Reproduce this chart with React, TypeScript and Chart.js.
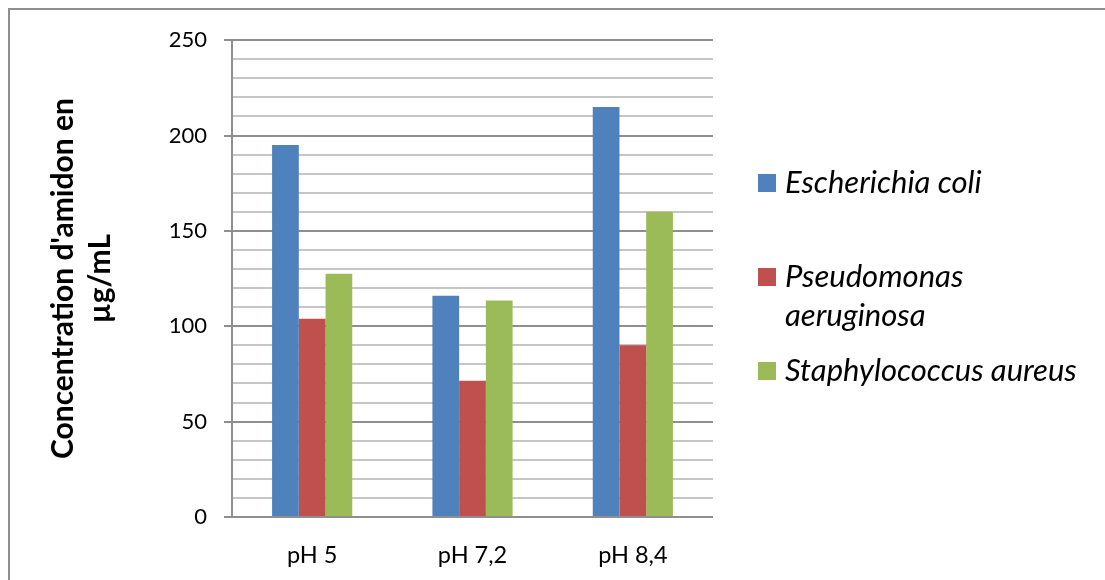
import React, { useEffect, useRef } from 'react';
import { Chart, registerables } from 'chart.js';

Chart.register(...registerables);

// Categories (pH of the medium) and starch concentration per bacterium, in µg/mL
const categories = ['pH 5', 'pH 7,2', 'pH 8,4'];
const seriesNames = ['Escherichia coli', 'Pseudomonas aeruginosa', 'Staphylococcus aureus'];
const escherichiaColi = [195, 116, 215];
const pseudomonasAeruginosa = [104, 71.5, 90];
const staphylococcusAureus = [127.5, 113.5, 160];
const seriesValues = [escherichiaColi, pseudomonasAeruginosa, staphylococcusAureus];
const seriesColors = ['#4F81BD', '#C0504D', '#9BBB59'];

// Legend labels, with the line break used in the legend
const legendLabels = ['Escherichia coli', 'Pseudomonas\naeruginosa', 'Staphylococcus aureus'];

// Y axis: labelled every 50, gridlines every 10
const yMin = 0;
const yMax = 250;
const yMajorStep = 50;
const yMinorStep = 10;
const yTitle = ["Concentration d'amidon en", 'µg/mL'];

const FONT = 'Lato, "Open Sans", sans-serif';
const MAJOR_GRID = '#8f8f8f';
const MINOR_GRID = '#c6c6c6';

const legendTops = [152, 246, 340];

export default function App() {
  const canvasRef = useRef<HTMLCanvasElement>(null);

  useEffect(() => {
    const canvas = canvasRef.current;
    if (!canvas) return;
    const isMajor = (v: number) => v % yMajorStep === 0;
    const chart = new Chart(canvas, {
      type: 'bar',
      data: {
        labels: categories,
        datasets: seriesNames.map((name, i) => ({
          label: name,
          data: seriesValues[i],
          backgroundColor: seriesColors[i],
          borderWidth: 0,
          categoryPercentage: 0.5,
          barPercentage: 1,
        })),
      },
      options: {
        animation: false,
        responsive: false,
        devicePixelRatio: 1,
        layout: { padding: { left: 0, top: 29, right: 384, bottom: 0 } },
        plugins: {
          legend: { display: false },
          tooltip: { enabled: false },
        },
        scales: {
          x: {
            grid: { display: false },
            border: { display: false },
            ticks: {
              color: '#000',
              padding: 16,
              font: { family: FONT, size: 23.5 },
            },
            afterFit: (scale: any) => {
              scale.height = 55;
            },
          },
          y: {
            min: yMin,
            max: yMax,
            afterFit: (scale: any) => {
              scale.width = 222;
            },
            ticks: {
              stepSize: yMinorStep,
              autoSkip: false,
              color: '#000',
              padding: 17,
              font: { family: FONT, size: 22 },
              callback: (v: any) => (isMajor(Number(v)) ? String(v) : ''),
            },
            grid: {
              color: (ctx: any) => (isMajor(ctx.tick.value) ? MAJOR_GRID : MINOR_GRID),
              lineWidth: 2,
              tickLength: 8,
              tickWidth: 2,
              tickColor: (ctx: any) => (isMajor(ctx.tick.value) ? MAJOR_GRID : 'rgba(0,0,0,0)'),
            },
            border: { color: MAJOR_GRID, width: 2 },
            title: {
              display: true,
              text: yTitle,
              color: '#000',
              font: { family: FONT, size: 30, weight: 'bold', lineHeight: '37px' },
              padding: { top: 34.5, bottom: 0 },
            },
          },
        },
      },
    } as any);
    return () => chart.destroy();
  }, []);

  return (
    <div
      style={{
        position: 'fixed',
        left: 8,
        top: 8,
        right: 0,
        bottom: 0,
        overflow: 'hidden',
      }}
    >
      <div
        style={{
          position: 'relative',
          width: 1200,
          height: 700,
          boxSizing: 'border-box',
          border: '2px solid #8e8e8e',
          background: '#fff',
        }}
      >
        <canvas ref={canvasRef} width={1087} height={562} style={{ display: 'block' }} />
        {legendLabels.map((label, i) => (
          <div
            key={seriesNames[i]}
            style={{
              position: 'absolute',
              left: 748,
              top: legendTops[i],
              display: 'flex',
              alignItems: 'flex-start',
              fontFamily: FONT,
              fontStyle: 'italic',
              fontSize: 31,
              lineHeight: '39px',
              color: '#000',
              whiteSpace: 'pre-line',
            }}
          >
            <span
              style={{
                display: 'inline-block',
                width: 18,
                height: 18,
                marginTop: 12,
                marginRight: 9,
                background: seriesColors[i],
                flex: 'none',
              }}
            />
            <span>{label}</span>
          </div>
        ))}
      </div>
    </div>
  );
}
